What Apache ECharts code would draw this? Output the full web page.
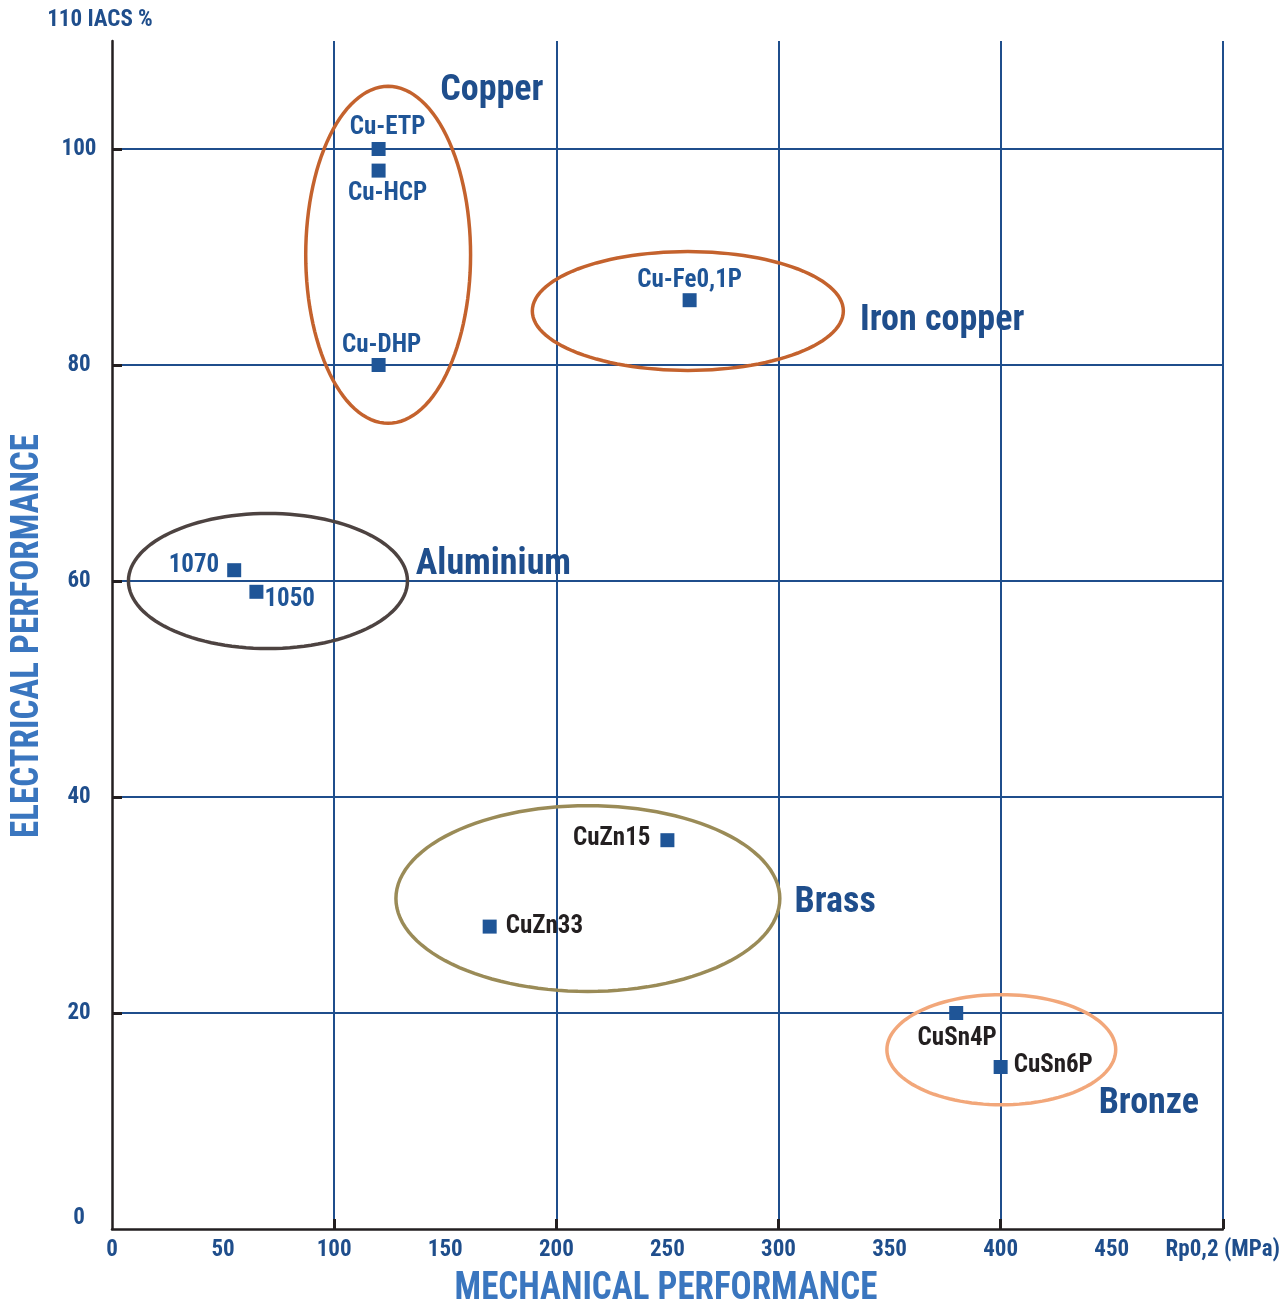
<!DOCTYPE html>
<html>
<head>
<meta charset="utf-8">
<script src="https://cdn.jsdelivr.net/npm/echarts@6/dist/echarts.min.js"></script>
<style>
  html, body { margin: 0; padding: 0; background: #ffffff; overflow: hidden; }
  #chart { width: 1283px; height: 1306px; }
</style>
</head>
<body>
<div id="chart"></div>
<script>
// ---------- data ----------
const materials = ['Cu-ETP', 'Cu-HCP', 'Cu-DHP', 'Cu-Fe0,1P', '1070', '1050', 'CuZn15', 'CuZn33', 'CuSn4P', 'CuSn6P'];
const materialFamily = ['Copper', 'Copper', 'Copper', 'Iron copper', 'Aluminium', 'Aluminium', 'Brass', 'Brass', 'Bronze', 'Bronze'];
const yieldStrength = [120, 120, 120, 260, 55, 65, 250, 170, 380, 400];   // Rp0,2 (MPa)
const conductivity = [100, 98, 80, 86, 61, 59, 36, 28, 20, 15];           // % IACS

const families = ['Copper', 'Iron copper', 'Aluminium', 'Brass', 'Bronze'];
const familyCenterX = [124.3, 259.2, 70.2, 214.2, 400.3];
const familyCenterY = [90.2, 85.0, 60.0, 30.6, 16.6];
const familySpreadX = [37.1, 70.0, 62.8, 86.4, 51.5];
const familySpreadY = [15.6, 5.5, 6.25, 8.6, 5.1];
const familyLabelX = [171.0, 373.7, 171.7, 325.5, 466.7];
const familyLabelY = [105.4, 84.1, 61.5, 30.2, 11.6];

const xTickLabels = [0, 50, 100, 150, 200, 250, 300, 350, 400, 450, 500];
const xMajorTicks = [100, 200, 300, 400, 500];
const yTickLabels = [0, 20, 40, 60, 80, 100];
const yMajorTicks = [20, 40, 60, 80, 100];

// ---------- styles ----------
const FONT = "'Roboto Condensed', 'Open Sans Condensed', 'DejaVu Sans Condensed', sans-serif";
const DARK_BLUE = '#1f4e8c';
const MARK_BLUE = '#1f5597';
const LIGHT_BLUE = '#3a76bf';
const INK = '#231f20';
const familyColor = {
  'Copper': '#c4622d',
  'Iron copper': '#c4622d',
  'Aluminium': '#4d4341',
  'Brass': '#9a8b57',
  'Bronze': '#f2a77a'
};
const familyTextColor = {
  'Copper': MARK_BLUE, 'Iron copper': MARK_BLUE, 'Aluminium': MARK_BLUE,
  'Brass': INK, 'Bronze': INK
};
const labelLayout = {
  'Cu-ETP':    { position: 'top',    distance: 5,  offset: [9, 3] },
  'Cu-HCP':    { position: 'bottom', distance: 3,  offset: [9, 1] },
  'Cu-DHP':    { position: 'top',    distance: 5,  offset: [3, 5] },
  'Cu-Fe0,1P': { position: 'top',    distance: 5,  offset: [0, 5] },
  '1070':      { position: 'left',   distance: 8,  offset: [0, -4] },
  '1050':      { position: 'right',  distance: 1,  offset: [0, 8] },
  'CuZn15':    { position: 'left',   distance: 10, offset: [0, -1] },
  'CuZn33':    { position: 'right',  distance: 9,  offset: [0, 0] },
  'CuSn4P':    { position: 'bottom', distance: 3,  offset: [1, 3] },
  'CuSn6P':    { position: 'right',  distance: 6,  offset: [0, -1] }
};

// ---------- build series data ----------
const pointData = materials.map((m, i) => {
  const lay = labelLayout[m];
  return {
    name: m,
    value: [yieldStrength[i], conductivity[i]],
    label: {
      show: true,
      formatter: m,
      position: lay.position,
      distance: lay.distance,
      offset: lay.offset,
      color: familyTextColor[materialFamily[i]]
    }
  };
});

const ellipseData = families.map((f, i) => ({
  name: f,
  value: [familyCenterX[i], familyCenterY[i], familySpreadX[i], familySpreadY[i]]
}));

const familyLabelData = families.map((f, i) => ({
  name: f,
  value: [familyLabelX[i], familyLabelY[i]]
}));

const chart = echarts.init(document.getElementById('chart'), null, { renderer: 'canvas' });

const option = {
  backgroundColor: '#ffffff',
  animation: false,
  grid: { left: 112, right: 60, top: 41, bottom: 77, containLabel: false },
  xAxis: [
    {
      type: 'value', min: 0, max: 500, interval: 50, position: 'bottom',
      axisLine: { show: true, onZero: false, lineStyle: { color: INK, width: 2.5 } },
      axisTick: { show: true, inside: true, length: 10, customValues: xMajorTicks,
                  lineStyle: { color: INK, width: 3 } },
      axisLabel: {
        show: true, margin: 10, customValues: xTickLabels,
        fontFamily: FONT, fontWeight: 'bold', fontSize: 23, color: DARK_BLUE,
        formatter: v => (v === 500 ? 'Rp0,2 (MPa)' : String(v))
      },
      splitLine: { show: true, lineStyle: { color: '#e6e6e6', width: 1 } }
    },
    {
      type: 'value', min: 0, max: 500, interval: 100, position: 'bottom',
      axisLine: { show: false }, axisTick: { show: false }, axisLabel: { show: false },
      splitLine: { show: true, showMinLine: false, lineStyle: { color: DARK_BLUE, width: 2 } }
    }
  ],
  yAxis: [
    {
      type: 'value', min: 0, max: 110, interval: 10, position: 'left',
      axisLine: { show: true, onZero: false, lineStyle: { color: INK, width: 2.5 } },
      axisTick: { show: true, inside: true, length: 10, customValues: yMajorTicks,
                  lineStyle: { color: INK, width: 3 } },
      axisLabel: {
        show: true, margin: 33, align: 'center', customValues: yTickLabels,
        fontFamily: FONT, fontWeight: 'bold', fontSize: 23, color: DARK_BLUE,
        formatter: v => (v === 0 ? '{zero|0}' : String(v)),
        rich: {
          zero: { fontFamily: FONT, fontWeight: 'bold', fontSize: 23, color: DARK_BLUE,
                  padding: [0, 0, 22, 0] }
        }
      },
      splitLine: { show: true, lineStyle: { color: '#e6e6e6', width: 1 } }
    },
    {
      type: 'value', min: 0, max: 110, interval: 20, position: 'left',
      axisLine: { show: false }, axisTick: { show: false }, axisLabel: { show: false },
      splitLine: { show: true, showMinLine: false, showMaxLine: false,
                   lineStyle: { color: DARK_BLUE, width: 2 } }
    }
  ],
  series: [
    {
      name: 'families',
      type: 'custom',
      xAxisIndex: 0, yAxisIndex: 0,
      clip: false,
      z: 3,
      data: ellipseData,
      encode: { x: 0, y: 1 },
      renderItem: function (params, api) {
        const c = api.coord([api.value(0), api.value(1)]);
        const sz = api.size([api.value(2), api.value(3)]);
        const pts = [];
        const N = 120;
        for (let k = 0; k < N; k++) {
          const t = (k / N) * Math.PI * 2;
          pts.push([c[0] + sz[0] * Math.cos(t), c[1] + sz[1] * Math.sin(t)]);
        }
        const fam = families[params.dataIndex];
        return {
          type: 'polygon',
          shape: { points: pts },
          style: { fill: 'none', stroke: familyColor[fam], lineWidth: 3.5 }
        };
      }
    },
    {
      name: 'materials',
      type: 'scatter',
      xAxisIndex: 0, yAxisIndex: 0,
      z: 4,
      symbol: 'rect',
      symbolSize: 14,
      itemStyle: { color: MARK_BLUE, opacity: 1 },
      label: { fontFamily: FONT, fontWeight: 'bold', fontSize: 25 },
      data: pointData
    },
    {
      name: 'familyLabels',
      type: 'scatter',
      xAxisIndex: 0, yAxisIndex: 0,
      z: 5,
      symbolSize: 0,
      itemStyle: { color: 'rgba(0,0,0,0)', opacity: 1 },
      label: {
        show: true, position: 'inside', formatter: p => p.name,
        fontFamily: FONT, fontWeight: 'bold', fontSize: 36, color: DARK_BLUE
      },
      data: familyLabelData
    }
  ],
  graphic: [
    {
      type: 'text', x: 100, y: 20,
      style: { text: '110 IACS %', align: 'center', verticalAlign: 'middle',
               font: "bold 23px " + FONT, fill: DARK_BLUE }
    },
    {
      type: 'text', x: 666, y: 1289, scaleY: 1.12,
      style: { text: 'MECHANICAL PERFORMANCE', align: 'center', verticalAlign: 'middle',
               font: "bold 35px " + FONT, fill: LIGHT_BLUE }
    },
    {
      type: 'text', x: 28, y: 636, rotation: Math.PI / 2, scaleY: 1.12,
      style: { text: 'ELECTRICAL PERFORMANCE', align: 'center', verticalAlign: 'middle',
               font: "bold 35px " + FONT, fill: LIGHT_BLUE }
    }
  ]
};

chart.setOption(option);
</script>
</body>
</html>
